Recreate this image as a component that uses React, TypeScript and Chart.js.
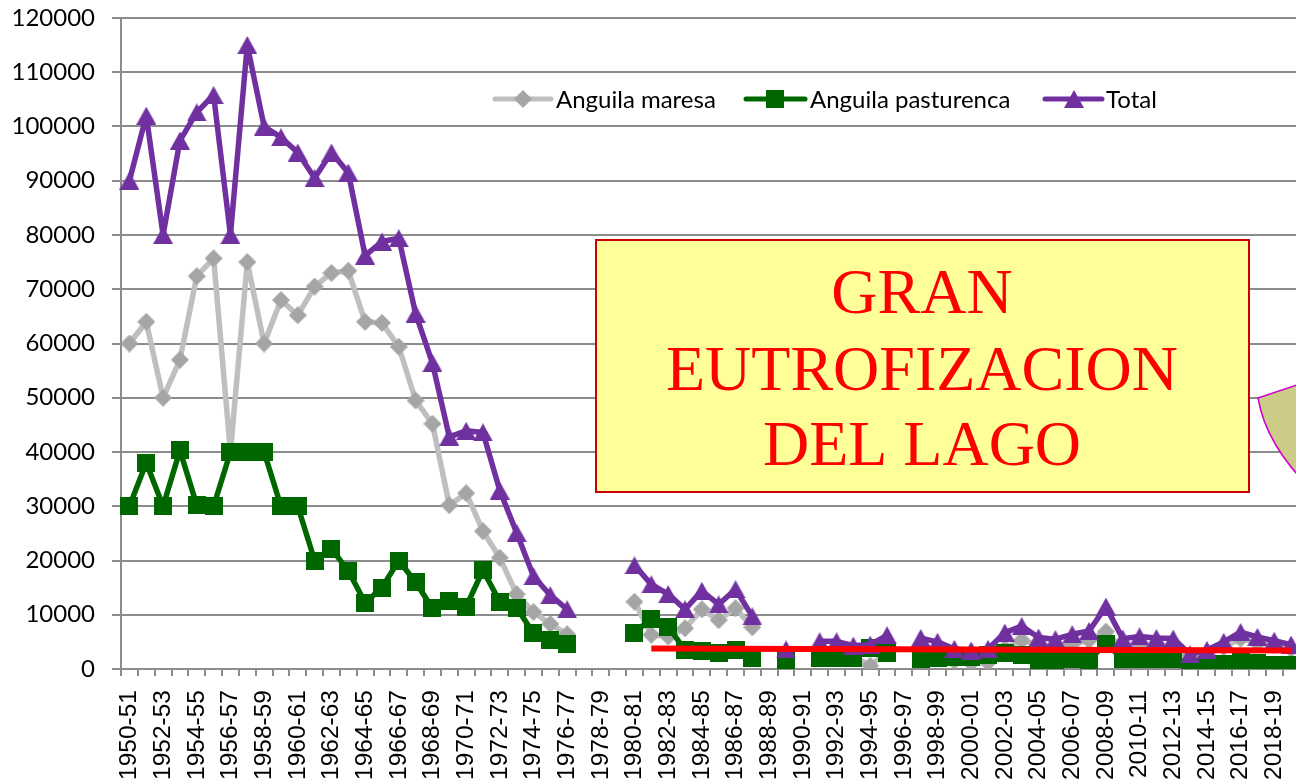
import React, { useEffect, useRef } from 'react';
import { Chart, registerables } from 'chart.js';

Chart.register(...registerables);

const categories = [
  '1950-51', '1951-52', '1952-53', '1953-54', '1954-55', '1955-56', '1956-57', '1957-58', '1958-59', '1959-60',
  '1960-61', '1961-62', '1962-63', '1963-64', '1964-65', '1965-66', '1966-67', '1967-68', '1968-69', '1969-70',
  '1970-71', '1971-72', '1972-73', '1973-74', '1974-75', '1975-76', '1976-77', '1977-78', '1978-79', '1979-80',
  '1980-81', '1981-82', '1982-83', '1983-84', '1984-85', '1985-86', '1986-87', '1987-88', '1988-89', '1989-90',
  '1990-91', '1991-92', '1992-93', '1993-94', '1994-95', '1995-96', '1996-97', '1997-98', '1998-99', '1999-00',
  '2000-01', '2001-02', '2002-03', '2003-04', '2004-05', '2005-06', '2006-07', '2007-08', '2008-09', '2009-10',
  '2010-11', '2011-12', '2012-13', '2013-14', '2014-15', '2015-16', '2016-17', '2017-18', '2018-19', '2019-20',
];

const anguilaMaresa = [
  60000, 64000, 50000, 57000, 72400, 75700, 40000, 75000, 60000, 68000,
  65200, 70500, 73000, 73400, 64000, 63800, 59400, 49500, 45200, 30200,
  32400, 25400, 20500, 13800, 10500, 8300, 6400, null, null, null,
  12400, 6300, 6000, 7500, 11000, 9000, 11200, 7700, null, 2000,
  null, 3000, 3000, 2300, 600, 3200, null, 3800, 3000, 1500,
  1100, 1200, 3800, 5300, 4300, 4000, 4600, 5300, 6900, 3700,
  4100, 3800, 3700, 2400, 2800, 4000, 5600, 4800, 4400, 3700,
];

const anguilaPasturenca = [
  30000, 38000, 30000, 40300, 30200, 30000, 40000, 40000, 40000, 30000,
  30000, 20000, 22200, 18100, 12200, 15000, 20000, 16000, 11200, 12600,
  11500, 18200, 12400, 11300, 6600, 5300, 4600, null, null, null,
  6700, 9300, 7800, 3500, 3400, 2900, 3500, 2000, null, 1600,
  null, 2100, 2100, 2000, 3900, 3000, null, 1900, 2000, 2200,
  2300, 2500, 2900, 2600, 1500, 1500, 1800, 1700, 4600, 1900,
  1900, 1900, 1900, 300, 700, 1000, 1200, 1100, 800, 800,
];

const totalValues = [
  90000, 102000, 80000, 97400, 102600, 105800, 80000, 115000, 100000, 98000,
  95200, 90500, 95200, 91500, 76200, 78800, 79400, 65500, 56400, 42800,
  43900, 43600, 32900, 25100, 17100, 13600, 11000, null, null, null,
  19100, 15600, 13800, 11000, 14400, 11900, 14700, 9700, null, 3600,
  null, 5100, 5100, 4300, 4500, 6200, null, 5700, 5000, 3700,
  3400, 3700, 6700, 7900, 5800, 5500, 6400, 7000, 11500, 5600,
  6000, 5700, 5600, 2700, 3500, 5000, 6800, 5900, 5200, 4500,
];

const trendPoints: [string, number][] = [['1981-82', 3800], ['2019-20', 3400]];

const seriesNames = ['Anguila maresa', 'Anguila pasturenca', 'Total'];
const boxLines = ['GRAN', 'EUTROFIZACION', 'DEL LAGO'];

const Y_MIN = 0;
const Y_MAX = 120000;
const Y_STEP = 10000;

const GRID = '#8c8c8c';
const GRAY_LINE = '#bfbfbf';
const GRAY_MARK = '#a5a5a5';
const GREEN = '#006600';
const PURPLE = '#7030a0';

const CW = 1314;
const CH = 782;

function makeMarker(kind: string): HTMLCanvasElement {
  const c = document.createElement('canvas');
  if (kind === 'diamond') {
    c.width = 18; c.height = 18;
    const g = c.getContext('2d')!;
    g.fillStyle = GRAY_MARK;
    g.beginPath();
    g.moveTo(9, 0); g.lineTo(18, 9); g.lineTo(9, 18); g.lineTo(0, 9);
    g.closePath(); g.fill();
  } else if (kind === 'square') {
    c.width = 18; c.height = 18;
    const g = c.getContext('2d')!;
    g.fillStyle = GREEN;
    g.fillRect(0, 0, 18, 18);
  } else {
    c.width = 20; c.height = 18;
    const g = c.getContext('2d')!;
    g.fillStyle = PURPLE;
    g.beginPath();
    g.moveTo(10, 0); g.lineTo(20, 18); g.lineTo(0, 18);
    g.closePath(); g.fill();
  }
  return c;
}

export default function App() {
  const ref = useRef<HTMLCanvasElement>(null);

  useEffect(() => {
    const diamond = makeMarker('diamond');
    const square = makeMarker('square');
    const triangle = makeMarker('triangle');

    const trendData: (number | null)[] = categories.map(() => null);
    trendPoints.forEach(([cat, v]) => {
      const i = categories.indexOf(cat);
      if (i >= 0) trendData[i] = v;
    });

    const overlay = {
      id: 'overlay',
      afterDatasetsDraw(chart: any) {
        const ctx = chart.ctx as CanvasRenderingContext2D;
        ctx.save();
        // legend
        const legendItems = [
          { x0: 495, x1: 551, mx: 523, tx: 556, color: GRAY_LINE, marker: diamond },
          { x0: 746, x1: 805, mx: 775, tx: 810, color: GREEN, marker: square },
          { x0: 1045, x1: 1102, mx: 1074, tx: 1106, color: PURPLE, marker: triangle },
        ];
        const ly = 99;
        legendItems.forEach((it, i) => {
          ctx.strokeStyle = it.color;
          ctx.lineWidth = 5;
          ctx.lineCap = 'round';
          ctx.beginPath();
          ctx.moveTo(it.x0, ly);
          ctx.lineTo(it.x1, ly);
          ctx.stroke();
          ctx.drawImage(it.marker, it.mx - it.marker.width / 2, ly - it.marker.height / 2);
          ctx.fillStyle = '#000';
          ctx.font = '24px Lato';
          ctx.textAlign = 'left';
          ctx.textBaseline = 'middle';
          ctx.fillText(seriesNames[i], it.tx, ly + 1);
        });

        // yellow box
        ctx.fillStyle = '#ffff99';
        ctx.fillRect(596, 240, 653, 252);
        ctx.strokeStyle = '#cc0000';
        ctx.lineWidth = 2;
        ctx.strokeRect(596, 240, 653, 252);
        ctx.fillStyle = '#ff0000';
        ctx.font = '64px "Liberation Serif"';
        ctx.textAlign = 'center';
        ctx.textBaseline = 'alphabetic';
        const baselines = [313, 390, 465];
        boxLines.forEach((t, i) => ctx.fillText(t, 922, baselines[i]));

        // olive shape at right edge
        ctx.beginPath();
        ctx.moveTo(1258, 398);
        ctx.lineTo(1330, 374);
        ctx.lineTo(1330, 500);
        ctx.lineTo(1312, 490);
        ctx.quadraticCurveTo(1266, 445, 1258, 398);
        ctx.closePath();
        ctx.fillStyle = '#cccc88';
        ctx.fill();
        ctx.strokeStyle = '#cc00cc';
        ctx.lineWidth = 1.5;
        ctx.beginPath();
        ctx.moveTo(1330, 374);
        ctx.lineTo(1258, 398);
        ctx.quadraticCurveTo(1266, 445, 1312, 490);
        ctx.stroke();
        ctx.restore();
      },
    };

    const chart = new Chart(ref.current!, {
      type: 'line',
      data: {
        labels: categories,
        datasets: [
          {
            label: 'trend',
            data: trendData,
            borderColor: '#ff0000',
            borderWidth: 6,
            pointRadius: 0,
            spanGaps: true,
            order: -1,
          },
          {
            label: seriesNames[2],
            data: totalValues,
            borderColor: PURPLE,
            borderWidth: 5.5,
            pointStyle: triangle,
            pointRadius: 9,
            borderJoinStyle: 'round',
            borderCapStyle: 'round',
            order: 0,
          },
          {
            label: seriesNames[1],
            data: anguilaPasturenca,
            borderColor: GREEN,
            borderWidth: 5.5,
            pointStyle: square,
            pointRadius: 9,
            borderJoinStyle: 'round',
            borderCapStyle: 'round',
            order: 1,
          },
          {
            label: seriesNames[0],
            data: anguilaMaresa,
            borderColor: GRAY_LINE,
            borderWidth: 5.5,
            pointStyle: diamond,
            pointRadius: 9,
            borderJoinStyle: 'round',
            borderCapStyle: 'round',
            order: 2,
          },
        ] as any,
      },
      options: {
        animation: false,
        responsive: false,
        devicePixelRatio: 1,
        spanGaps: false,
        layout: { padding: { top: 18, right: 0, bottom: 0, left: 0 } },
        plugins: {
          legend: { display: false },
          tooltip: { enabled: false },
          title: { display: false },
        },
        elements: { line: { tension: 0 } },
        scales: {
          x: {
            type: 'category',
            offset: true,
            grid: {
              display: true,
              offset: true,
              drawOnChartArea: false,
              drawTicks: true,
              tickLength: 7,
              color: GRID,
              lineWidth: 2,
            },
            border: { display: true, color: GRID, width: 2 },
            ticks: {
              autoSkip: false,
              maxRotation: 90,
              minRotation: 90,
              padding: 14,
              color: '#000',
              font: { family: '"Liberation Sans", Arial, sans-serif', size: 24.5 },
              callback: function (this: any, v: any, i: number) {
                return i % 2 === 0 ? this.getLabelForValue(v) : '';
              },
            },
            afterFit: (s: any) => {
              s.height = 113;
              s.paddingLeft = 0;
              s.paddingRight = 0;
            },
          },
          y: {
            min: Y_MIN,
            max: Y_MAX,
            grid: { color: GRID, lineWidth: 2, tickLength: 9 },
            border: { display: true, color: GRID, width: 2 },
            ticks: {
              stepSize: Y_STEP,
              padding: 17,
              color: '#000',
              font: { family: 'Lato', size: 24 },
              callback: (v: any) => String(v),
            },
            afterFit: (s: any) => {
              s.width = 121;
              s.paddingTop = 0;
              s.paddingBottom = 0;
            },
          },
        },
      } as any,
      plugins: [overlay],
    });
    return () => chart.destroy();
  }, []);

  return (
    <div
      style={{
        position: 'absolute',
        left: 0,
        top: 0,
        width: 1296,
        height: CH,
        overflow: 'hidden',
        background: '#fff',
      }}
    >
      <canvas ref={ref} width={CW} height={CH} style={{ display: 'block', width: CW, height: CH }} />
    </div>
  );
}
